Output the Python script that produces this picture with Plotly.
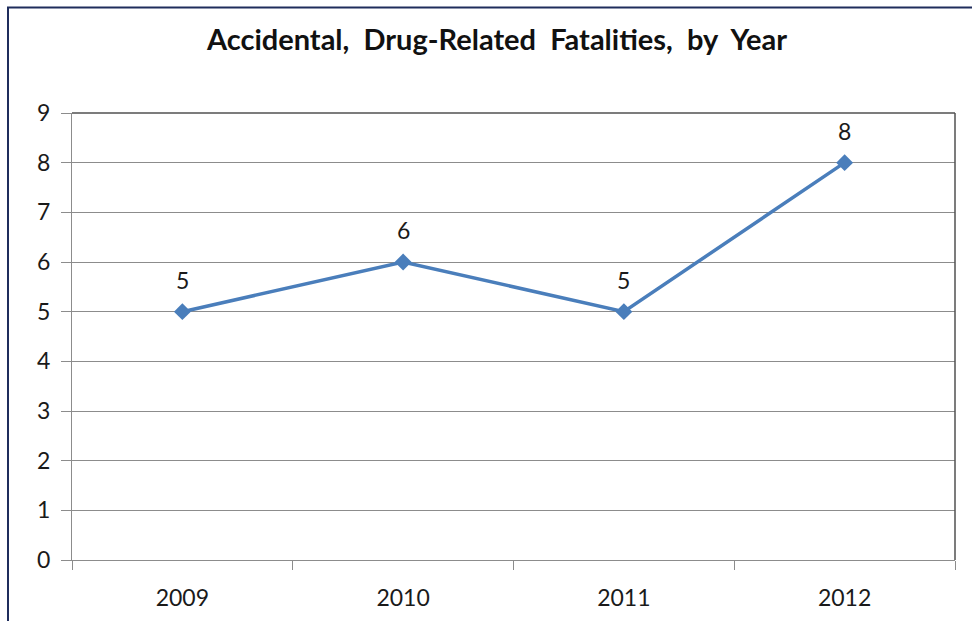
import plotly.graph_objects as go

# Yearly counts of accidental, drug-related fatalities
years = ["2009", "2010", "2011", "2012"]
fatalities = [5, 6, 5, 8]
y_ticks = [0, 1, 2, 3, 4, 5, 6, 7, 8, 9]

W, H = 972, 621
L, R, T, B = 72, 17, 113, 61
pw, ph = W - L - R, H - T - B


def px_x(p):
    return (p - L) / pw


def px_y(p):
    return (H - B - p) / ph


font_family = "Lato, 'Open Sans', sans-serif"
line_blue = "#4A7EBB"
grid_gray = "#8C8C8C"
text_color = "#1A1A1A"

fig = go.Figure()
fig.add_trace(go.Scatter(
    x=years,
    y=fatalities,
    mode="lines+markers",
    line=dict(color=line_blue, width=3.5),
    marker=dict(symbol="diamond", size=13, color=line_blue),
    hoverinfo="skip",
    showlegend=False,
))

# value labels above each point (category index as x position)
for i, v in enumerate(fatalities):
    fig.add_annotation(
        x=i, y=v, xref="x", yref="y", text=str(v), showarrow=False, yshift=32,
        font=dict(family=font_family, size=23, color=text_color),
    )

shapes = [
    # chart frame
    dict(type="rect", xref="paper", yref="paper",
         x0=px_x(8), x1=px_x(990), y0=px_y(640), y1=px_y(7.5),
         line=dict(color="#1F2D5C", width=2), layer="above"),
    # plot-area border on top and right
    dict(type="line", xref="paper", yref="paper", x0=0, x1=1, y0=1, y1=1,
         line=dict(color="#505050", width=1.5)),
    dict(type="line", xref="paper", yref="paper", x0=1, x1=1, y0=0, y1=1,
         line=dict(color="#505050", width=1.5)),
]

fig.update_layout(
    width=W, height=H,
    margin=dict(l=L, r=R, t=T, b=B, autoexpand=False),
    paper_bgcolor="white",
    plot_bgcolor="white",
    shapes=shapes,
    title=dict(
        text="<b>Accidental,  Drug-Related  Fatalities,  by  Year</b>",
        x=px_x(497), xanchor="center", xref="paper",
        y=1 - 40 / H, yanchor="middle", yref="container",
        font=dict(family=font_family, size=29, color="#111111"),
    ),
    xaxis=dict(
        type="category",
        categoryorder="array", categoryarray=years,
        range=[-0.5, 3.5],
        tickson="boundaries",
        ticks="outside", ticklen=9, tickcolor=grid_gray, tickwidth=1,
        showgrid=False,
        showline=True, linecolor=grid_gray, linewidth=1,
        tickfont=dict(family=font_family, size=23, color=text_color),
        ticklabelstandoff=17,
        zeroline=False,
        automargin=False,
    ),
    yaxis=dict(
        range=[0, 9],
        tickvals=y_ticks,
        ticks="outside", ticklen=10, tickcolor=grid_gray, tickwidth=1,
        showgrid=True, gridcolor=grid_gray, gridwidth=1,
        showline=True, linecolor=grid_gray, linewidth=1,
        zeroline=False,
        tickfont=dict(family=font_family, size=23, color=text_color),
        ticklabelstandoff=6,
        automargin=False,
    ),
)

fig.write_html("out.html")
